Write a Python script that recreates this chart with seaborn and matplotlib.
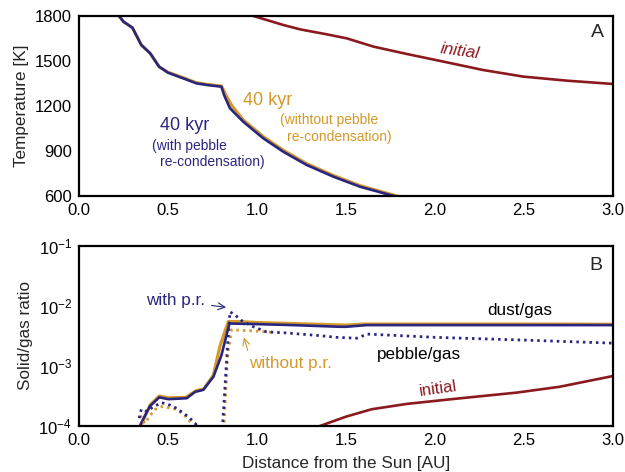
import matplotlib
matplotlib.use("Agg")
import matplotlib.pyplot as plt
import seaborn as sns
import numpy as np
from matplotlib.ticker import MultipleLocator, LogLocator, NullFormatter

sns.set_style("white")
plt.rcParams['font.family'] = ['Liberation Sans', 'DejaVu Sans']
plt.rcParams['mathtext.default'] = 'regular'

BLUE = "#2a2680"
ORANGE = "#d4992a"
RED = "#8b1a1e"

# ---- Panel A: temperature ----
xA_blue = [0.20, 0.225, 0.25, 0.30, 0.35, 0.40, 0.45, 0.50, 0.60, 0.66, 0.72, 0.80,
           0.815, 0.848, 0.923, 1.035, 1.148, 1.279, 1.429, 1.579, 1.747, 1.85]
TA_blue = [1900, 1800, 1762, 1722, 1607, 1551, 1462, 1422, 1378, 1351, 1340, 1329,
           1273, 1185, 1095, 985, 895, 807, 729, 662, 607, 575]
xA_orange = [0.20, 0.225, 0.25, 0.30, 0.35, 0.40, 0.45, 0.50, 0.60, 0.66, 0.72, 0.80,
             0.83, 0.86, 0.923, 1.035, 1.148, 1.279, 1.429, 1.579, 1.747, 1.87]
TA_orange = [1900, 1800, 1762, 1722, 1607, 1551, 1462, 1425, 1382, 1355, 1344, 1333,
             1262, 1200, 1107, 996, 905, 816, 737, 669, 613, 575]
xA_init = [0.95, 0.98, 1.148, 1.242, 1.391, 1.504, 1.654, 1.841, 2.047, 2.27, 2.496, 2.74, 3.0]
TA_init = [1815, 1800, 1740, 1711, 1678, 1651, 1596, 1547, 1496, 1440, 1396, 1369, 1347]

# ---- Panel B: solid/gas ratio ----
xB_dust_pr = [0.33, 0.346, 0.399, 0.451, 0.502, 0.605, 0.652, 0.698, 0.755, 0.80, 0.845,
              0.98, 1.2, 1.466, 1.5, 1.616, 2.0, 2.5, 3.0]
rB_dust_pr = [6.3e-5, 1.07e-4, 2.15e-4, 3.0e-4, 2.8e-4, 2.9e-4, 3.7e-4, 4.0e-4, 6.6e-4,
              1.5e-3, 5.1e-3, 5.0e-3, 4.8e-3, 4.5e-3, 4.5e-3, 4.8e-3, 4.8e-3, 4.8e-3, 4.8e-3]
xB_dust_nopr = [0.335, 0.355, 0.40, 0.451, 0.502, 0.60, 0.66, 0.70, 0.755, 0.792, 0.839,
                0.90, 1.0, 1.5, 1.6, 2.0, 2.5, 3.0]
rB_dust_nopr = [8e-5, 1.15e-4, 2.25e-4, 3.15e-4, 2.95e-4, 3.0e-4, 3.9e-4, 4.1e-4, 7.0e-4,
                2.15e-3, 5.5e-3, 5.5e-3, 5.3e-3, 4.8e-3, 5.0e-3, 5.0e-3, 5.0e-3, 4.95e-3]
xB_peb_pr = [0.338, 0.35, 0.38, 0.418, 0.464, 0.50, 0.548, 0.614, 0.657, 0.67, 0.79, 0.807,
             0.833, 0.848, 0.876, 0.914, 0.98, 1.054, 1.166, 1.354, 1.447, 1.56, 1.62,
             2.0, 2.5, 3.0]
rB_peb_pr = [1.35e-4, 1.9e-4, 1.75e-4, 2.1e-4, 2.44e-4, 2.3e-4, 1.97e-4, 1.43e-4, 1.07e-4,
             5e-5, 5e-5, 1.07e-4, 1.86e-3, 8.0e-3, 7.1e-3, 5.7e-3, 4.5e-3, 3.7e-3, 3.55e-3,
             3.2e-3, 3.0e-3, 2.9e-3, 3.4e-3, 3.0e-3, 2.7e-3, 2.4e-3]
xB_peb_nopr = [0.345, 0.37, 0.40, 0.43, 0.464, 0.53, 0.586, 0.633, 0.66, 0.80, 0.815,
               0.835, 0.857, 0.94, 1.054, 1.1]
rB_peb_nopr = [1.5e-4, 1.1e-4, 1.5e-4, 1.9e-4, 2.1e-4, 1.97e-4, 1.6e-4, 1.1e-4, 7e-5,
               5e-5, 1.0e-4, 1.5e-3, 4.0e-3, 3.9e-3, 3.7e-3, 3.6e-3]
xB_init = [1.30, 1.354, 1.5, 1.644, 1.84, 2.084, 2.459, 2.70, 3.0]
rB_init = [8e-5, 1.0e-4, 1.43e-4, 1.9e-4, 2.33e-4, 2.78e-4, 3.6e-4, 4.5e-4, 6.8e-4]

fig = plt.figure(figsize=(6.25, 4.72), dpi=100)
axA = fig.add_axes([0.1264, 0.5847, 0.8544, 0.3814])
axB = fig.add_axes([0.1264, 0.0975, 0.8544, 0.3814])

LW = 1.9
sns.lineplot(x=xA_init, y=TA_init, ax=axA, color=RED, lw=LW, estimator=None)
sns.lineplot(x=xA_orange, y=TA_orange, ax=axA, color=ORANGE, lw=LW + 0.4, estimator=None)
sns.lineplot(x=xA_blue, y=TA_blue, ax=axA, color=BLUE, lw=LW, estimator=None)

dot = (0, (0.9, 1.45))
sns.lineplot(x=xB_init, y=rB_init, ax=axB, color=RED, lw=LW, estimator=None)
sns.lineplot(x=xB_dust_nopr, y=rB_dust_nopr, ax=axB, color=ORANGE, lw=LW + 0.4, estimator=None)
sns.lineplot(x=xB_dust_pr, y=rB_dust_pr, ax=axB, color=BLUE, lw=LW, estimator=None)
sns.lineplot(x=xB_peb_nopr, y=rB_peb_nopr, ax=axB, color=ORANGE, lw=2.0, linestyle=dot,
             estimator=None)
sns.lineplot(x=xB_peb_pr, y=rB_peb_pr, ax=axB, color=BLUE, lw=2.0, linestyle=dot,
             estimator=None)

FS = 12.3
for ax in (axA, axB):
    ax.set_xlim(0, 3.0)
    ax.xaxis.set_major_locator(MultipleLocator(0.5))
    ax.xaxis.set_minor_locator(MultipleLocator(0.25))
    ax.tick_params(which='both', direction='in', top=False, right=False,
                   labelsize=12, colors='black', width=1.0)
    ax.tick_params(which='major', length=4.5)
    ax.tick_params(which='minor', length=2.5)
    ax.tick_params(axis='y', which='major', pad=5)
    ax.tick_params(axis='x', which='major', pad=5)
    for s in ax.spines.values():
        s.set_linewidth(1.6)
        s.set_color('black')

axA.set_ylim(600, 1800)
axA.yaxis.set_major_locator(MultipleLocator(300))
axA.yaxis.set_minor_locator(MultipleLocator(100))
axA.set_ylabel("Temperature [K]", fontsize=FS, labelpad=4)
axA.set_xlabel("")

axB.set_yscale('log')
axB.set_ylim(1e-4, 1e-1)
axB.yaxis.set_major_locator(LogLocator(base=10, numticks=10))
axB.yaxis.set_minor_locator(LogLocator(base=10, subs=np.arange(2, 10), numticks=10))
axB.yaxis.set_minor_formatter(NullFormatter())
axB.set_ylabel("Solid/gas ratio", fontsize=FS, labelpad=4)
axB.set_xlabel("Distance from the Sun [AU]", fontsize=FS, labelpad=5.5)

# Panel A annotations
axA.text(0.970, 0.906, "A", transform=axA.transAxes, fontsize=14, ha='center', va='center')
axA.text(2.14, 1567, "initial", color=RED, fontsize=12.5, style='italic', rotation=-8,
         ha='center', va='center')
axA.text(0.596, 1073, "40 kyr", color=BLUE, fontsize=13, ha='center', va='center')
axA.text(0.408, 933, "(with pebble", color=BLUE, fontsize=10, ha='left', va='center')
axA.text(0.455, 827, "re-condensation)", color=BLUE, fontsize=10, ha='left', va='center')
axA.text(1.062, 1240, "40 kyr", color=ORANGE, fontsize=13, ha='center', va='center')
axA.text(1.129, 1107, "(withtout pebble", color=ORANGE, fontsize=10, ha='left', va='center')
axA.text(1.170, 993, "re-condensation)", color=ORANGE, fontsize=10, ha='left', va='center')

# Panel B annotations
axB.text(0.968, 0.894, "B", transform=axB.transAxes, fontsize=14, ha='center', va='center')
axB.annotate("with p.r.", xy=(0.826, 9.5e-3), xytext=(0.545, 1.21e-2),
             color=BLUE, fontsize=FS, ha='center', va='center',
             arrowprops=dict(arrowstyle='->', color=BLUE, lw=0.8, shrinkA=2, shrinkB=0))
axB.annotate("without p.r.", xy=(0.927, 3.0e-3), xytext=(1.19, 1.08e-3),
             color=ORANGE, fontsize=FS, ha='center', va='center',
             arrowprops=dict(arrowstyle='->', color=ORANGE, lw=0.8, shrinkA=2, shrinkB=0,
                             relpos=(0.0, 1.0)))
axB.text(2.478, 8.26e-3, "dust/gas", color='black', fontsize=FS, ha='center', va='center')
axB.text(1.91, 1.58e-3, "pebble/gas", color='black', fontsize=FS, ha='center', va='center')
axB.text(2.017, 4.14e-4, "initial", color=RED, fontsize=12, rotation=8,
         ha='center', va='center')

fig.savefig("out.png", dpi=100)
